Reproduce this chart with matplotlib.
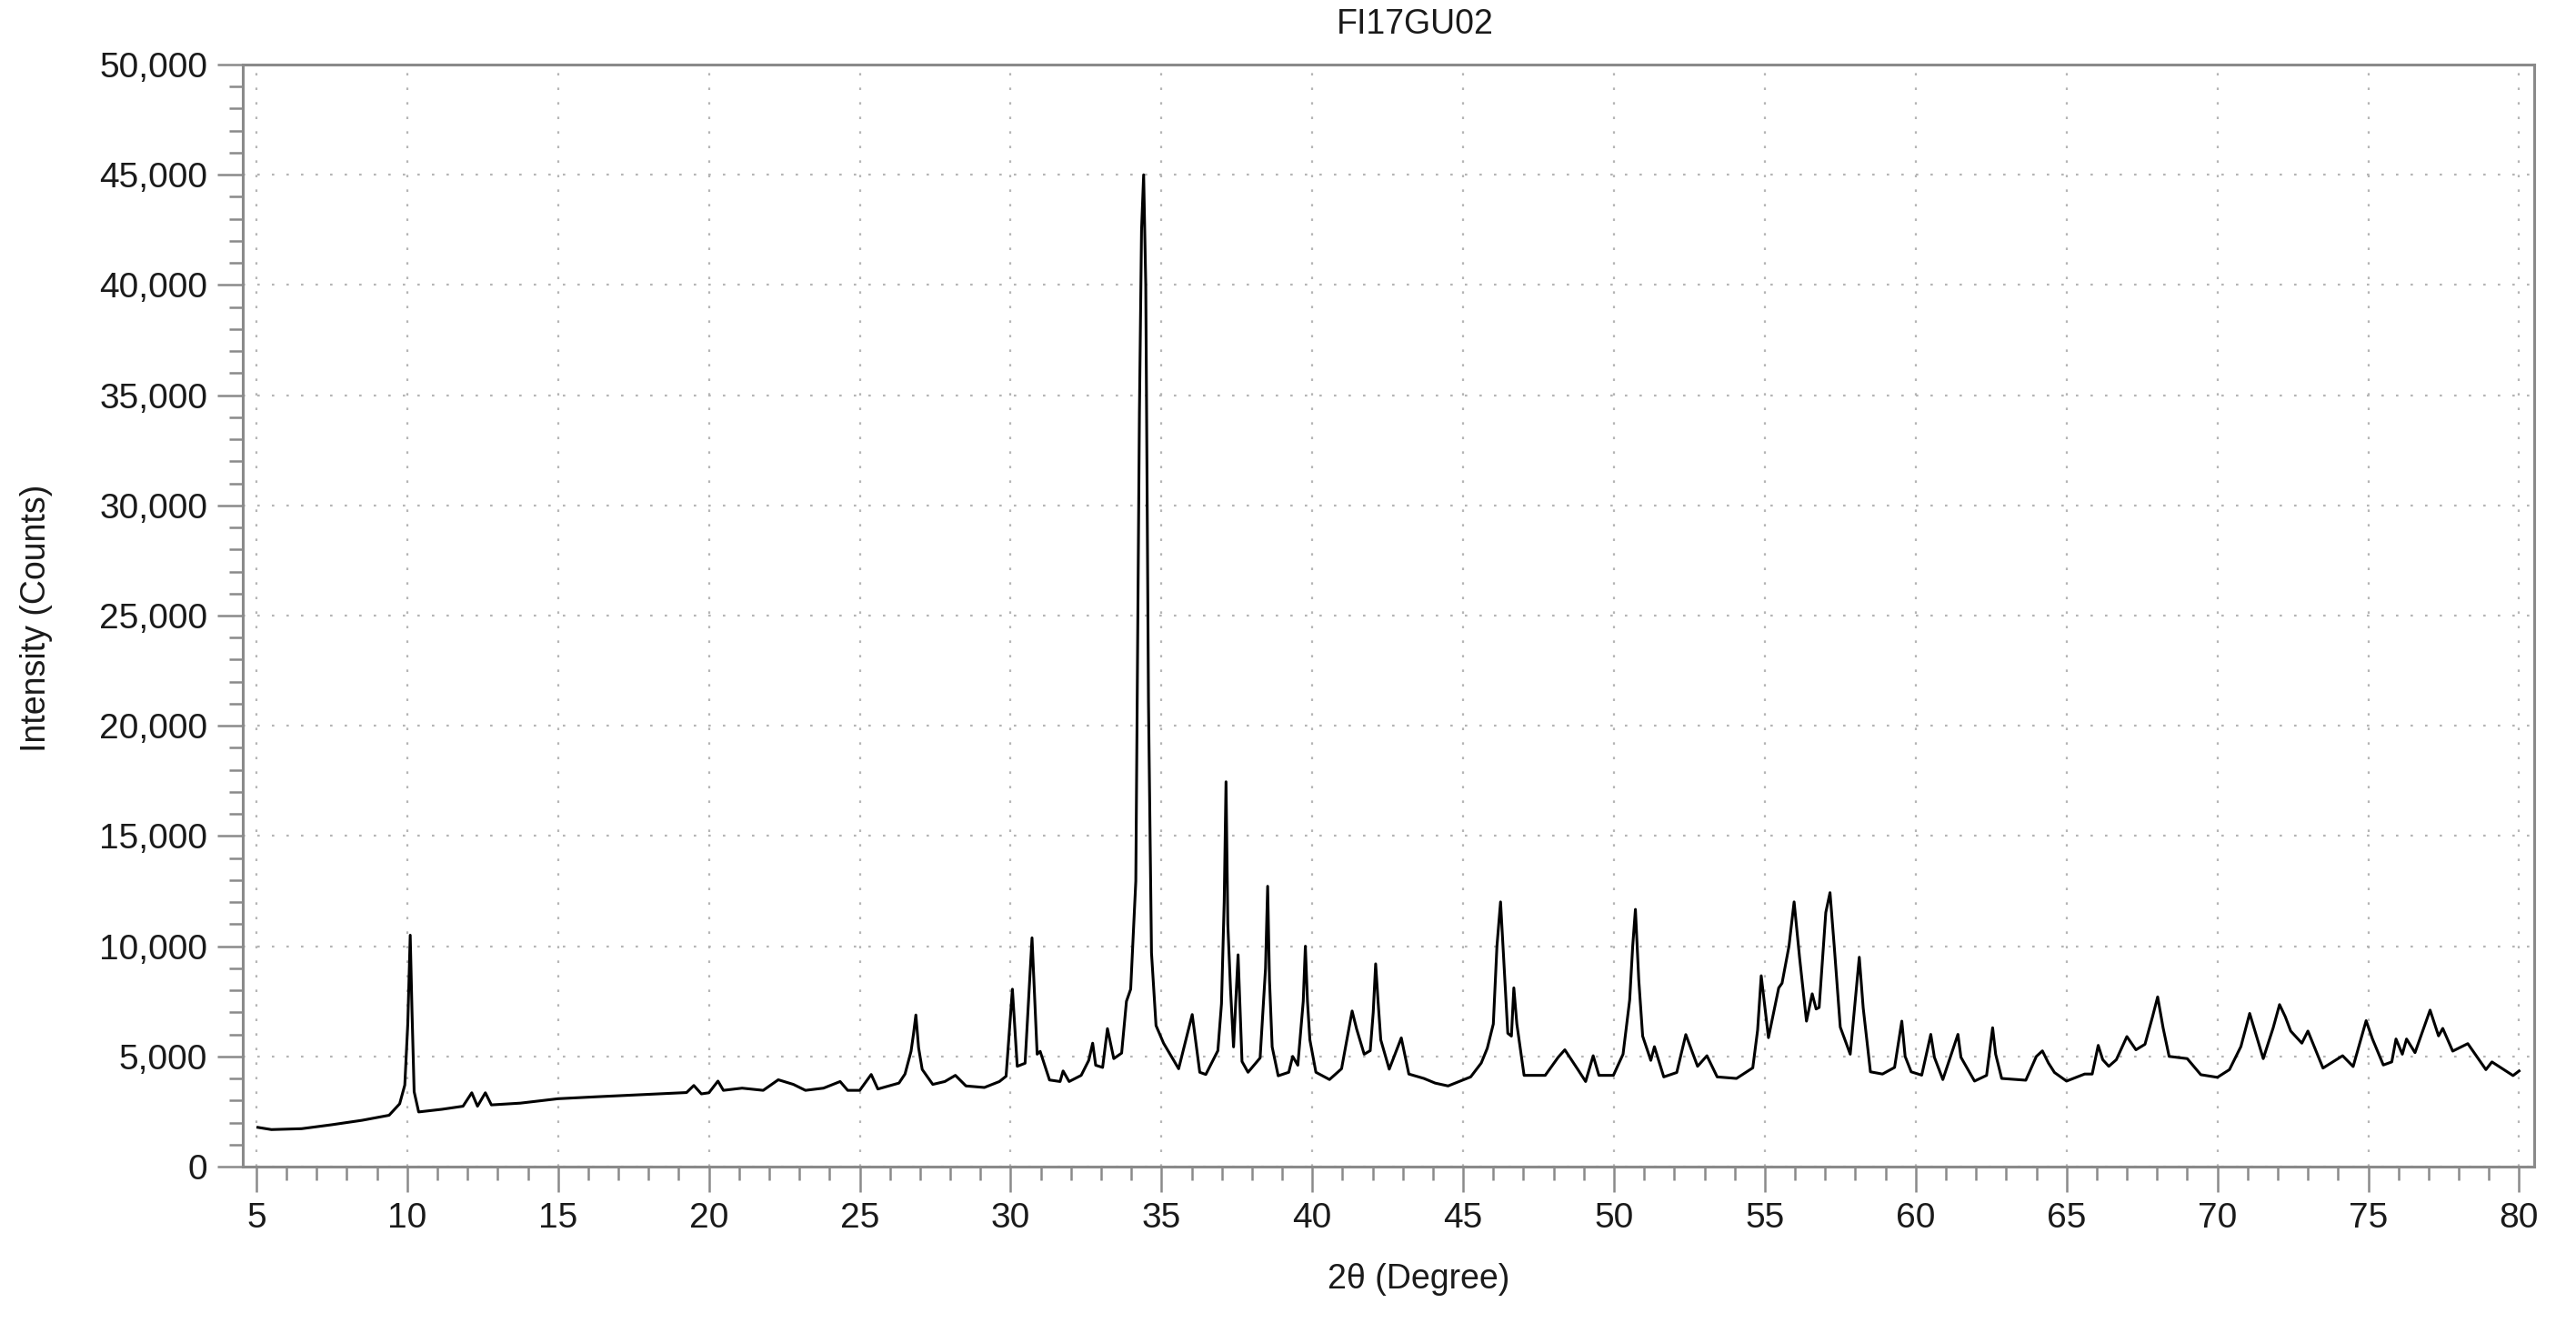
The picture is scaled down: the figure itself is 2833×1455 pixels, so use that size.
import matplotlib
matplotlib.use("Agg")
import matplotlib.pyplot as plt
from matplotlib.ticker import MultipleLocator, FuncFormatter

two_theta = [
    5.05, 5.5, 6.5, 7.5, 8.5, 9.4, 9.75, 9.92, 10.02, 10.1, 10.16, 10.23, 10.38,
    11.15, 11.85, 12.14, 12.33, 12.59, 12.79, 13.75, 15.0, 16.3, 18.0, 19.26,
    19.5, 19.75, 20.0, 20.3, 20.48, 21.1, 21.8, 22.3, 22.8, 23.2, 23.8, 24.35,
    24.6, 25.0, 25.38, 25.6, 26.3, 26.5, 26.7, 26.78, 26.86, 26.95, 27.07, 27.42, 27.82,
    28.17, 28.52, 29.13, 29.63, 29.85, 30.06, 30.22, 30.48, 30.71, 30.88,
    30.98, 31.29, 31.64, 31.74, 31.94, 32.34, 32.59, 32.72, 32.82, 33.05,
    33.21, 33.42, 33.68, 33.84, 33.98, 34.15, 34.27, 34.34, 34.41, 34.48, 34.57,
    34.67, 34.82, 35.07, 35.57, 36.02, 36.27, 36.47, 36.87, 36.99, 37.08, 37.14,
    37.2, 37.29, 37.39, 37.54, 37.67, 37.87, 38.27, 38.45, 38.52, 38.58, 38.67, 38.87, 39.22,
    39.35, 39.52, 39.7, 39.77, 39.84, 39.92, 40.12, 40.57, 40.97, 41.32, 41.47, 41.72,
    41.92, 42.02, 42.1, 42.18, 42.27, 42.55, 42.95, 43.2, 43.7, 44.07, 44.5, 45.25, 45.6, 45.8,
    46.0, 46.12, 46.24, 46.36, 46.48, 46.6, 46.68, 46.78, 47.02, 47.72, 48.15, 48.37, 48.8,
    49.06, 49.31, 49.5, 49.98, 50.3, 50.52, 50.62, 50.71, 50.82, 50.95, 51.22, 51.34, 51.65,
    52.08, 52.38, 52.77, 53.08, 53.42, 54.06, 54.6, 54.76, 54.88, 55.01,
    55.12, 55.46, 55.57, 55.8, 55.97, 56.15, 56.38, 56.57, 56.7, 56.8, 57.02, 57.16, 57.3, 57.5,
    57.83, 58.13, 58.26, 58.5, 58.9, 59.3, 59.54, 59.65, 59.85, 60.2, 60.5,
    60.62, 60.9, 61.4, 61.5, 61.95, 62.35, 62.55, 62.65, 62.85, 63.65, 64.0, 64.2,
    64.4, 64.6, 65.0, 65.6, 65.85, 66.05, 66.2, 66.4, 66.65, 67.0, 67.3, 67.6,
    67.85, 68.02, 68.2, 68.4, 69.0, 69.45, 70.0, 70.4, 70.78, 71.07, 71.52, 71.85, 72.06, 72.25, 72.43,
    72.8, 73.0, 73.5, 74.15, 74.5, 74.93, 75.14, 75.5, 75.78, 75.92, 76.13,
    76.27, 76.55, 77.05, 77.33, 77.47, 77.8, 78.3, 78.9, 79.1, 79.8, 80.0,
]
intensity = [
    1780, 1680, 1720, 1900, 2100, 2330, 2850, 3700, 6500, 10500, 7000, 3400, 2480,
    2600, 2740, 3350, 2740, 3350, 2800, 2880, 3080, 3170, 3280, 3360,
    3680, 3300, 3350, 3880, 3460, 3560, 3460, 3940, 3730, 3460, 3560, 3860,
    3460, 3460, 4180, 3520, 3790, 4200, 5230, 6000, 6880, 5400, 4410, 3730, 3860,
    4140, 3660, 3590, 3860, 4100, 8050, 4550, 4690, 10380, 5100,
    5230, 3930, 3860, 4340, 3860, 4140, 4820, 5600, 4600, 4500,
    6260, 4900, 5150, 7500, 8050, 12950, 34200, 42500, 45000, 40000, 21100,
    9700, 6400, 5600, 4440, 6900, 4280, 4180, 5260, 7390, 12000, 17460,
    11000, 8040, 5430, 9610, 4770, 4280, 4930, 9000, 12720, 8500, 5430, 4120, 4280,
    5000, 4600, 7500, 10000, 7500, 5750, 4280, 3950, 4440, 7060, 6240, 5100,
    5260, 7000, 9200, 7500, 5750, 4420, 5840, 4200, 4000, 3790, 3660, 4070, 4700, 5370,
    6470, 10000, 12010, 9000, 6050, 5920, 8110, 6470, 4140, 4140, 4960, 5300, 4410,
    3860, 5030, 4140, 4140, 5100, 7560, 10000, 11670, 8500, 5920, 4820, 5440, 4070,
    4270, 5990, 4550, 5030, 4070, 4000, 4480, 6190, 8660, 7150,
    5850, 8110, 8320, 10000, 12010, 9500, 6600, 7840, 7150, 7220, 11530, 12430, 10000, 6330,
    5100, 9500, 7200, 4300, 4200, 4500, 6600, 5000, 4300, 4150, 6000,
    4960, 3950, 6000, 4960, 3880, 4140, 6300, 5100, 4000, 3920, 5000, 5250,
    4700, 4270, 3880, 4200, 4200, 5500, 4850, 4550, 4850, 5900, 5300, 5550,
    6800, 7700, 6300, 5000, 4900, 4170, 4050, 4400, 5450, 6950, 4900, 6300, 7350, 6800, 6150,
    5600, 6150, 4470, 5030, 4540, 6620, 5790, 4610, 4750, 5790, 5100,
    5790, 5170, 7100, 5930, 6270, 5240, 5580, 4400, 4750, 4130, 4340,
]
title = "FI17GU02"
x_label = "2\u03b8 (Degree)"
y_label = "Intensity (Counts)"
x_ticks = [5, 10, 15, 20, 25, 30, 35, 40, 45, 50, 55, 60, 65, 70, 75, 80]
y_ticks = [0, 5000, 10000, 15000, 20000, 25000, 30000, 35000, 40000, 45000, 50000]

plt.rcParams['font.family'] = ['Liberation Sans', 'DejaVu Sans']

W, H = 2833, 1455
fig = plt.figure(figsize=(W / 100, H / 100), dpi=100)
ax = fig.add_axes([267 / W, 1 - 1283 / H, (2787 - 267) / W, (1283 - 71) / H])

ax.plot(two_theta, intensity, color='black', lw=2.2, zorder=3, solid_joinstyle='round')

ax.set_xlim(4.55, 80.5)
ax.set_ylim(0, 50000)
ax.set_xticks(x_ticks)
ax.set_yticks(y_ticks)
ax.xaxis.set_minor_locator(MultipleLocator(1))
ax.yaxis.set_minor_locator(MultipleLocator(1000))
ax.yaxis.set_major_formatter(FuncFormatter(lambda v, p: f"{v:,.0f}"))

gray = '#8a8a8a'
for s in ax.spines.values():
    s.set_color(gray)
    s.set_linewidth(2.2)
ax.tick_params(which='major', direction='out', length=20, width=1.8, color=gray,
               labelsize=28, pad=8, labelcolor='#1a1a1a')
ax.tick_params(which='minor', direction='out', length=11, width=1.8, color=gray)

ax.grid(True, which='major', color='#b5b5b5', linestyle=(0, (1.2, 6)), lw=1.6, zorder=0)

fig.text(1556 / W, 1 - 27 / H, title, ha='center', va='center', fontsize=27, color='#1a1a1a')
fig.text(1560 / W, 1 - 1407 / H, x_label, ha='center', va='center', fontsize=27, color='#1a1a1a')
fig.text(40 / W, 1 - 680 / H, y_label, ha='center', va='center', rotation=90, fontsize=27, color='#1a1a1a')

fig.savefig("out.png", dpi=100, facecolor='white')
